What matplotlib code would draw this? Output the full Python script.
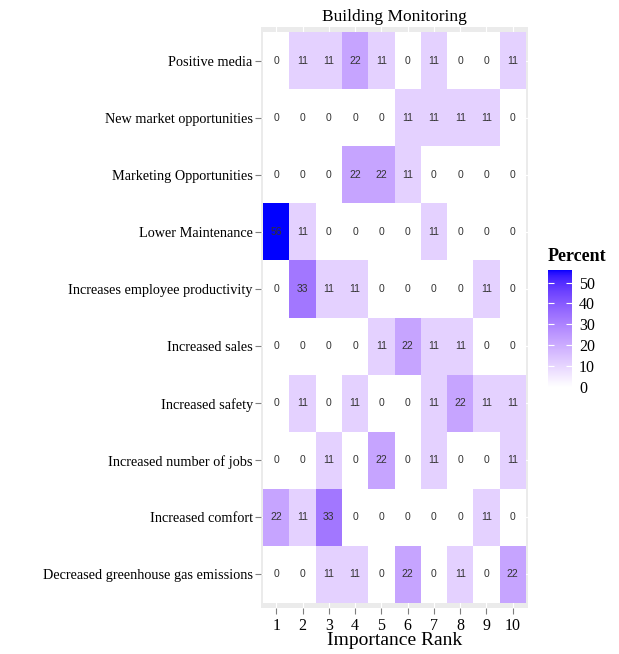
import numpy as np
import matplotlib
matplotlib.use('Agg')
import matplotlib.pyplot as plt
import matplotlib.colors as mcolors

# survey rank shares (%), rows top to bottom
items = ['Positive media', 'New market opportunities', 'Marketing Opportunities',
         'Lower Maintenance', 'Increases employee productivity', 'Increased sales',
         'Increased safety', 'Increased number of jobs', 'Increased comfort',
         'Decreased greenhouse gas emissions']
ranks = [1, 2, 3, 4, 5, 6, 7, 8, 9, 10]
positive_media = [0, 11, 11, 22, 11, 0, 11, 0, 0, 11]
new_market = [0, 0, 0, 0, 0, 11, 11, 11, 11, 0]
marketing = [0, 0, 0, 22, 22, 11, 0, 0, 0, 0]
lower_maint = [56, 11, 0, 0, 0, 0, 11, 0, 0, 0]
employee_prod = [0, 33, 11, 11, 0, 0, 0, 0, 11, 0]
sales = [0, 0, 0, 0, 11, 22, 11, 11, 0, 0]
safety = [0, 11, 0, 11, 0, 0, 11, 22, 11, 11]
jobs = [0, 0, 11, 0, 22, 0, 11, 0, 0, 11]
comfort = [22, 11, 33, 0, 0, 0, 0, 0, 11, 0]
greenhouse = [0, 0, 11, 11, 0, 22, 0, 11, 0, 22]
cbar_ticks = [0, 10, 20, 30, 40, 50]

pct = np.array([positive_media, new_market, marketing, lower_maint, employee_prod,
                sales, safety, jobs, comfort, greenhouse], dtype=float)


# white -> blue gradient interpolated in CIE Lab (like ggplot's scale_fill_gradient)
M = np.array([[0.4124, 0.3576, 0.1805],
              [0.2126, 0.7152, 0.0722],
              [0.0193, 0.1192, 0.9505]])
WP = np.array([0.95047, 1.0, 1.08883])


def rgb2lab(c):
    c = np.asarray(c, float)
    lin = np.where(c <= 0.04045, c / 12.92, ((c + 0.055) / 1.055) ** 2.4)
    xyz = M @ lin / WP
    f = np.where(xyz > 0.008856, np.cbrt(xyz), 7.787 * xyz + 16 / 116)
    return np.array([116 * f[1] - 16, 500 * (f[0] - f[1]), 200 * (f[1] - f[2])])


def lab2rgb(lab):
    L, a, b = lab
    fy = (L + 16) / 116
    fx = fy + a / 500
    fz = fy - b / 200
    f = np.array([fx, fy, fz])
    xyz = np.where(f ** 3 > 0.008856, f ** 3, (f - 16 / 116) / 7.787) * WP
    lin = np.linalg.solve(M, xyz)
    lin = np.clip(lin, 0, 1)
    c = np.where(lin <= 0.0031308, 12.92 * lin, 1.055 * lin ** (1 / 2.4) - 0.055)
    return np.clip(c, 0, 1)


lo, hi = rgb2lab([1, 1, 1]), rgb2lab([0, 0, 1])
cols = [lab2rgb(lo + t * (hi - lo)) for t in np.linspace(0, 1, 256)]
cmap = mcolors.ListedColormap(cols)
norm = mcolors.Normalize(vmin=0, vmax=pct.max())

serif = 'Liberation Serif'
fig = plt.figure(figsize=(6.19, 6.54), dpi=100)
ax = fig.add_axes([0.4217, 0.0703, 0.4313, 0.8884])
ax.set_facecolor('#ebebeb')
for s in ax.spines.values():
    s.set_visible(False)

ny = len(items)
yy = np.arange(ny, 0, -1)
xe = np.arange(0.5, 11.5, 1)
ye = np.arange(0.5, ny + 1.5, 1)
ax.pcolormesh(xe, ye, pct[::-1], cmap=cmap, norm=norm, zorder=2)
for i, row in enumerate(pct):
    for j, v in enumerate(row):
        ax.text(ranks[j], yy[i], '%d' % v, ha='center', va='center',
                fontsize=7.5, color='#333333', family='Liberation Sans', zorder=3)

ax.set_xlim(0.42, 10.58)
ax.set_ylim(0.41, ny + 0.59)
ax.set_xticks(ranks)
ax.set_xticklabels([str(r) for r in ranks], family=serif, fontsize=11.5)
ax.set_yticks(yy)
ax.set_yticklabels(items, family=serif, fontsize=10.3)
ax.tick_params(length=4, color='#7f7f7f', width=0.8, pad=2)
ax.tick_params(axis='x', pad=3)
ax.grid(color='white', linewidth=0.8, zorder=1)
ax.set_axisbelow(True)
ax.set_xlabel('Importance Rank', family=serif, fontsize=14, labelpad=-1)
ax.set_title('Building Monitoring', family=serif, fontsize=12.5, pad=4)

# legend colour bar
cax = fig.add_axes([0.8853, 0.4083, 0.0388, 0.1789])
cb = fig.colorbar(plt.cm.ScalarMappable(norm=norm, cmap=cmap), cax=cax)
cb.outline.set_visible(False)
cb.set_ticks(cbar_ticks)
cax.tick_params(which='both', direction='in', length=4, color='white', width=0.8,
                left=True, right=True, labelsize=11.5, pad=5)
for t in cax.get_yticklabels():
    t.set_family(serif)
cax.minorticks_off()
fig.text(0.885, 0.595, 'Percent', family=serif, fontsize=13, fontweight='bold',
         ha='left', va='bottom')

fig.savefig('out.png', dpi=100)
